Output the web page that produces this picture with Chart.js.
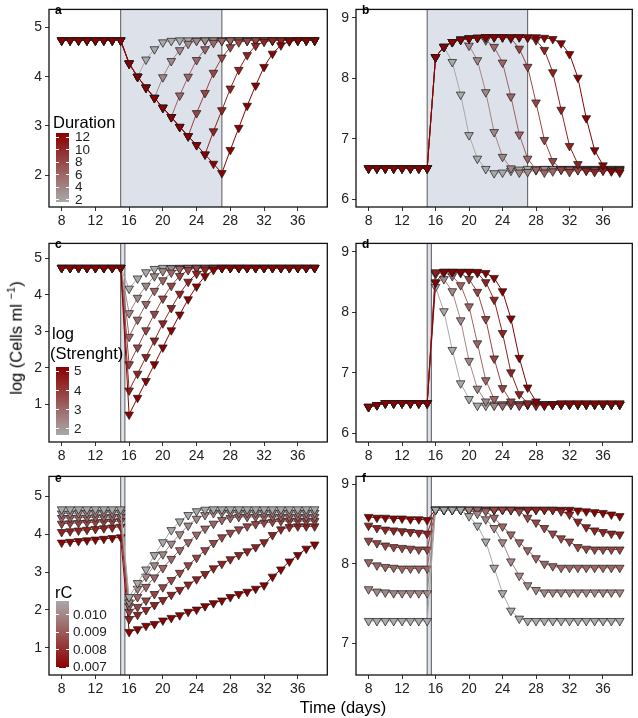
<!DOCTYPE html>
<html>
<head>
<meta charset="utf-8">
<script src="https://cdn.jsdelivr.net/npm/chart.js@4.4.0/dist/chart.umd.min.js"></script>
<style>
body { margin: 0; width: 638px; height: 718px; position: relative; background: #fff; overflow: hidden;
       font-family: "Liberation Sans", Arial, sans-serif; color: #000; }
.pane { position: absolute; }
.let { position: absolute; font-size: 12px; font-weight: bold; line-height: 12px; }
.ttl { position: absolute; font-size: 16.5px; line-height: 18px; white-space: nowrap; }
.bar { position: absolute; width: 13px; }
.tk { position: absolute; font-size: 13.5px; line-height: 13px; color: #222; }
.wt { position: absolute; width: 3px; height: 1px; background: #fff; }
</style>
</head>
<body>

<div class="pane"><canvas id="pa"></canvas></div>
<div class="pane"><canvas id="pb"></canvas></div>
<div class="pane"><canvas id="pc"></canvas></div>
<div class="pane"><canvas id="pd"></canvas></div>
<div class="pane"><canvas id="pe"></canvas></div>
<div class="pane"><canvas id="pf"></canvas></div>

<div class="let" style="left:55px;top:4px">a</div>
<div class="let" style="left:362px;top:4px">b</div>
<div class="let" style="left:55px;top:238px">c</div>
<div class="let" style="left:362px;top:238px">d</div>
<div class="let" style="left:55px;top:472px">e</div>
<div class="let" style="left:362px;top:472px">f</div>

<div class="ttl" style="left:53px;top:113px">Duration</div>
<div class="bar" id="barA" style="left:56px;top:133px;height:69px"></div>
<div id="legA"></div>

<div class="ttl" style="left:52px;top:324px">log</div>
<div class="ttl" style="left:50px;top:344px">(Strenght)</div>
<div class="bar" id="barC" style="left:56px;top:367px;height:68px"></div>
<div id="legC"></div>

<div class="ttl" style="left:55px;top:583px">rC</div>
<div class="bar" id="barE" style="left:56px;top:601px;height:67px"></div>
<div id="legE"></div>

<div class="ttl" style="left:13px;top:338px;transform:translate(-50%,-50%) rotate(-90deg)">log (Cells ml <sup style="font-size:11px">&minus;1</sup>)</div>
<div class="ttl" style="left:343px;top:698px;transform:translateX(-50%)">Time (days)</div>

<script>
const days = [8,9,10,11,12,13,14,15,16,17,18,19,20,21,22,23,24,25,26,27,28,29,30,31,32,33,34,35,36,37,38];
const xTicks = [8,12,16,20,24,28,32,36];

// panel a: duration 2..12
const a_dur2  = [4.74,4.74,4.74,4.74,4.74,4.74,4.74,4.74,4.27,4.00,4.35,4.56,4.70,4.73,4.74,4.74,4.74,4.74,4.74,4.74,4.74,4.74,4.74,4.74,4.74,4.74,4.74,4.74,4.74,4.74,4.74];
const a_dur4  = [4.74,4.74,4.74,4.74,4.74,4.74,4.74,4.74,4.27,4.00,3.78,3.57,3.99,4.32,4.54,4.67,4.73,4.74,4.74,4.74,4.74,4.74,4.74,4.74,4.74,4.74,4.74,4.74,4.74,4.74,4.74];
const a_dur6  = [4.74,4.74,4.74,4.74,4.74,4.74,4.74,4.74,4.27,4.00,3.78,3.57,3.37,3.18,3.62,4.00,4.34,4.56,4.69,4.73,4.74,4.74,4.74,4.74,4.74,4.74,4.74,4.74,4.74,4.74,4.74];
const a_dur8  = [4.74,4.74,4.74,4.74,4.74,4.74,4.74,4.74,4.27,4.00,3.78,3.57,3.37,3.18,2.98,2.79,3.26,3.67,4.08,4.39,4.60,4.70,4.73,4.74,4.74,4.74,4.74,4.74,4.74,4.74,4.74];
const a_dur10 = [4.74,4.74,4.74,4.74,4.74,4.74,4.74,4.74,4.27,4.00,3.78,3.57,3.37,3.18,2.98,2.79,2.61,2.42,2.89,3.32,3.76,4.14,4.44,4.63,4.71,4.74,4.74,4.74,4.74,4.74,4.74];
const a_dur12 = [4.74,4.74,4.74,4.74,4.74,4.74,4.74,4.74,4.27,4.00,3.78,3.57,3.37,3.18,2.98,2.79,2.61,2.42,2.23,2.04,2.51,2.96,3.41,3.82,4.20,4.47,4.64,4.72,4.74,4.74,4.74];

// panel b: duration 2..12
const b_dur2  = [6.51,6.51,6.51,6.51,6.51,6.51,6.51,6.51,8.35,8.52,8.27,7.73,7.06,6.67,6.50,6.43,6.44,6.47,6.49,6.50,6.50,6.50,6.50,6.50,6.50,6.50,6.50,6.50,6.50,6.50,6.50];
const b_dur4  = [6.51,6.51,6.51,6.51,6.51,6.51,6.51,6.51,8.35,8.52,8.60,8.64,8.54,8.30,7.77,7.11,6.70,6.51,6.44,6.45,6.48,6.50,6.50,6.50,6.50,6.50,6.50,6.50,6.50,6.50,6.50];
const b_dur6  = [6.51,6.51,6.51,6.51,6.51,6.51,6.51,6.51,8.35,8.52,8.60,8.64,8.66,8.67,8.63,8.52,8.26,7.70,7.07,6.67,6.49,6.44,6.46,6.49,6.49,6.49,6.49,6.49,6.49,6.49,6.49];
const b_dur8  = [6.51,6.51,6.51,6.51,6.51,6.51,6.51,6.51,8.35,8.52,8.60,8.64,8.66,8.67,8.68,8.68,8.68,8.66,8.49,8.19,7.60,6.98,6.63,6.49,6.45,6.48,6.48,6.48,6.48,6.48,6.48];
const b_dur10 = [6.51,6.51,6.51,6.51,6.51,6.51,6.51,6.51,8.35,8.52,8.60,8.64,8.66,8.67,8.68,8.68,8.68,8.68,8.68,8.67,8.63,8.47,8.10,7.48,6.88,6.58,6.47,6.45,6.47,6.47,6.47];
const b_dur12 = [6.51,6.51,6.51,6.51,6.51,6.51,6.51,6.51,8.35,8.52,8.60,8.64,8.66,8.67,8.68,8.68,8.68,8.68,8.68,8.68,8.68,8.67,8.65,8.58,8.40,8.01,7.34,6.81,6.56,6.46,6.44];

// panel c: log strength 2..5
const c_str1 = [4.74,4.74,4.74,4.74,4.74,4.74,4.74,4.74,4.17,4.45,4.62,4.71,4.74,4.74,4.74,4.74,4.74,4.74,4.74,4.74,4.74,4.74,4.74,4.74,4.74,4.74,4.74,4.74,4.74,4.74,4.74];
const c_str2 = [4.74,4.74,4.74,4.74,4.74,4.74,4.74,4.74,3.50,3.92,4.25,4.51,4.65,4.73,4.74,4.74,4.74,4.74,4.74,4.74,4.74,4.74,4.74,4.74,4.74,4.74,4.74,4.74,4.74,4.74,4.74];
const c_str3 = [4.74,4.74,4.74,4.74,4.74,4.74,4.74,4.74,2.85,3.32,3.75,4.11,4.40,4.61,4.71,4.74,4.74,4.74,4.74,4.74,4.74,4.74,4.74,4.74,4.74,4.74,4.74,4.74,4.74,4.74,4.74];
const c_str4 = [4.74,4.74,4.74,4.74,4.74,4.74,4.74,4.74,2.10,2.56,3.03,3.48,3.90,4.25,4.52,4.68,4.74,4.74,4.74,4.74,4.74,4.74,4.74,4.74,4.74,4.74,4.74,4.74,4.74,4.74,4.74];
const c_str5 = [4.74,4.74,4.74,4.74,4.74,4.74,4.74,4.74,1.38,1.84,2.30,2.75,3.22,3.64,4.03,4.36,4.58,4.69,4.74,4.74,4.74,4.74,4.74,4.74,4.74,4.74,4.74,4.74,4.74,4.74,4.74];
const c_str6 = [4.74,4.74,4.74,4.74,4.74,4.74,4.74,4.74,0.72,1.18,1.64,2.10,2.56,3.03,3.46,3.88,4.23,4.51,4.68,4.74,4.74,4.74,4.74,4.74,4.74,4.74,4.74,4.74,4.74,4.74,4.74];

// panel d: log strength 2..5
const d_str1 = [6.44,6.47,6.50,6.50,6.50,6.50,6.50,6.50,8.42,8.02,7.38,6.83,6.57,6.46,6.46,6.48,6.48,6.48,6.48,6.48,6.48,6.48,6.48,6.48,6.48,6.48,6.48,6.48,6.48,6.48,6.48];
const d_str2 = [6.44,6.47,6.50,6.50,6.50,6.50,6.50,6.50,8.50,8.55,8.35,7.87,7.20,6.74,6.53,6.46,6.48,6.48,6.48,6.48,6.48,6.48,6.48,6.48,6.48,6.48,6.48,6.48,6.48,6.48,6.48];
const d_str3 = [6.44,6.47,6.50,6.50,6.50,6.50,6.50,6.50,8.63,8.66,8.60,8.45,8.10,7.49,6.88,6.57,6.46,6.48,6.48,6.48,6.48,6.48,6.48,6.48,6.48,6.48,6.48,6.48,6.48,6.48,6.48];
const d_str4 = [6.44,6.47,6.50,6.50,6.50,6.50,6.50,6.50,8.66,8.67,8.67,8.65,8.55,8.34,7.89,7.24,6.75,6.53,6.46,6.48,6.48,6.48,6.48,6.48,6.48,6.48,6.48,6.48,6.48,6.48,6.48];
const d_str5 = [6.44,6.47,6.50,6.50,6.50,6.50,6.50,6.50,8.66,8.67,8.67,8.67,8.67,8.65,8.50,8.21,7.66,7.01,6.65,6.50,6.46,6.48,6.48,6.48,6.48,6.48,6.48,6.48,6.48,6.48,6.48];
const d_str6 = [6.44,6.47,6.50,6.50,6.50,6.50,6.50,6.50,8.49,8.67,8.67,8.67,8.67,8.67,8.65,8.57,8.35,7.90,7.25,6.76,6.53,6.46,6.48,6.50,6.50,6.50,6.50,6.50,6.50,6.50,6.50];

// panel e: rC 0.010 (grey) .. 0.007 (dark)
const e_rc1 = [4.66,4.66,4.66,4.66,4.66,4.66,4.66,4.66,2.34,2.71,3.07,3.45,3.79,4.11,4.34,4.51,4.61,4.65,4.66,4.66,4.66,4.66,4.66,4.66,4.66,4.66,4.66,4.66,4.66,4.66,4.66];
const e_rc2 = [4.55,4.55,4.56,4.56,4.56,4.57,4.57,4.57,2.20,2.56,2.88,3.18,3.47,3.75,4.00,4.23,4.41,4.51,4.56,4.57,4.57,4.57,4.57,4.57,4.57,4.57,4.57,4.57,4.57,4.57,4.57];
const e_rc3 = [4.43,4.43,4.44,4.44,4.45,4.45,4.46,4.46,2.10,2.34,2.61,2.86,3.11,3.35,3.58,3.79,3.99,4.15,4.28,4.38,4.43,4.46,4.46,4.46,4.46,4.46,4.46,4.46,4.46,4.46,4.46];
const e_rc4 = [4.28,4.29,4.30,4.31,4.32,4.33,4.34,4.35,1.95,2.08,2.25,2.42,2.60,2.79,2.98,3.18,3.38,3.58,3.77,3.92,4.04,4.13,4.21,4.27,4.31,4.33,4.35,4.35,4.35,4.35,4.35];
const e_rc5 = [4.06,4.08,4.10,4.12,4.14,4.16,4.18,4.20,1.76,1.87,2.00,2.13,2.26,2.40,2.53,2.67,2.81,2.95,3.10,3.22,3.34,3.45,3.55,3.66,3.79,3.98,4.13,4.19,4.21,4.21,4.21];
const e_rc6 = [3.78,3.80,3.82,3.84,3.86,3.88,3.90,3.92,1.42,1.49,1.58,1.63,1.72,1.79,1.86,1.95,2.01,2.10,2.18,2.25,2.34,2.42,2.48,2.56,2.65,2.88,3.07,3.28,3.45,3.62,3.73];

// panel f: rC 0.010 (grey) .. 0.007 (dark)
const f_rc1 = [7.28,7.28,7.28,7.28,7.28,7.28,7.28,7.28,8.68,8.68,8.68,8.68,8.60,8.48,8.28,7.95,7.63,7.41,7.31,7.28,7.28,7.28,7.28,7.28,7.28,7.28,7.28,7.28,7.28,7.28,7.28];
const f_rc2 = [7.68,7.65,7.64,7.63,7.63,7.63,7.63,7.63,8.68,8.68,8.68,8.68,8.68,8.63,8.56,8.45,8.27,8.03,7.85,7.73,7.67,7.64,7.64,7.64,7.64,7.64,7.64,7.64,7.64,7.64,7.64];
const f_rc3 = [8.02,7.98,7.96,7.95,7.94,7.94,7.94,7.94,8.68,8.68,8.68,8.68,8.68,8.68,8.66,8.58,8.47,8.37,8.27,8.17,8.07,8.00,7.97,7.95,7.95,7.95,7.95,7.95,7.95,7.95,7.95];
const f_rc4 = [8.29,8.26,8.23,8.21,8.20,8.19,8.18,8.18,8.68,8.68,8.68,8.68,8.68,8.68,8.68,8.68,8.68,8.68,8.66,8.58,8.52,8.45,8.38,8.32,8.28,8.21,8.19,8.18,8.18,8.18,8.18];
const f_rc5 = [8.48,8.45,8.43,8.42,8.41,8.40,8.39,8.38,8.68,8.68,8.68,8.68,8.68,8.68,8.68,8.68,8.68,8.68,8.68,8.68,8.68,8.68,8.68,8.66,8.62,8.53,8.46,8.42,8.40,8.38,8.37];
const f_rc6 = [8.59,8.58,8.58,8.57,8.57,8.56,8.56,8.55,8.68,8.68,8.68,8.68,8.68,8.68,8.68,8.68,8.68,8.68,8.68,8.68,8.68,8.68,8.68,8.68,8.68,8.67,8.66,8.65,8.64,8.62,8.60];

// treatment windows (days)
const winAB = [15, 27];
const winCF = [15, 15.5];

const GREY = [169, 169, 169];
const DARK = [139, 0, 0];

function mixColor(f) {
    let c = GREY.map((g, i) => Math.round(g + (DARK[i] - g) * f));
    return 'rgb(' + c.join(',') + ')';
}

// series listed from grey to dark red; greyOnTop decides which is drawn last
function makeDatasets(series, greyOnTop) {
    let n = series.length;
    let ds = series.map((s, i) => {
        let col = mixColor(i / (n - 1));
        return {
            data: s.map((v, j) => ({ x: days[j], y: v })),
            borderColor: col,
            backgroundColor: col,
            borderWidth: 1,
            pointStyle: 'triangle',
            rotation: 180,
            pointRadius: 5,
            pointBorderColor: '#1a1a1a',
            pointBorderWidth: 0.7,
            pointBackgroundColor: col,
            tension: 0
        };
    });
    // dataset 0 is drawn on top in Chart.js
    return greyOnTop ? ds : ds.reverse();
}

const frame = {
    id: 'frame',
    beforeDatasetsDraw(chart) {
        let win = chart.options.plugins.frame.win;
        let ctx = chart.ctx, a = chart.chartArea, xs = chart.scales.x;
        let x0 = xs.getPixelForValue(win[0]), x1 = xs.getPixelForValue(win[1]);
        ctx.save();
        ctx.fillStyle = '#dde1ea';
        ctx.fillRect(x0, a.top, x1 - x0, a.bottom - a.top);
        ctx.strokeStyle = '#5a5a5a';
        ctx.lineWidth = 1;
        ctx.beginPath();
        ctx.moveTo(x0, a.top); ctx.lineTo(x0, a.bottom);
        ctx.moveTo(x1, a.top); ctx.lineTo(x1, a.bottom);
        ctx.stroke();
        ctx.restore();
    },
    afterDraw(chart) {
        let ctx = chart.ctx, a = chart.chartArea;
        ctx.save();
        ctx.strokeStyle = '#111';
        ctx.lineWidth = 1.3;
        ctx.strokeRect(a.left, a.top, a.right - a.left, a.bottom - a.top);
        ctx.restore();
    }
};

function makePanel(id, box, yMin, yMax, yTicks, series, greyOnTop, win) {
    const PADL = 32, PADT = 3, PADR = 3, PADB = 27;
    let L = box[0], T = box[1], R = box[2], B = box[3];
    let canvas = document.getElementById(id);
    let w = R - L + PADL + PADR, h = B - T + PADT + PADB;
    canvas.width = w; canvas.height = h;
    canvas.style.width = w + 'px'; canvas.style.height = h + 'px';
    let pane = canvas.parentNode;
    pane.style.left = (L - PADL) + 'px';
    pane.style.top = (T - PADT) + 'px';

    const tickFont = { family: '"Liberation Sans", Arial, sans-serif', size: 14 };
    const axisGrid = { display: true, drawOnChartArea: false, drawTicks: true, tickLength: 4, color: '#333', lineWidth: 1 };

    new Chart(canvas, {
        type: 'line',
        data: { datasets: makeDatasets(series, greyOnTop) },
        options: {
            responsive: false,
            animation: false,
            layout: { padding: { left: 0, top: PADT, right: PADR, bottom: 0 } },
            plugins: { legend: { display: false }, tooltip: { enabled: false }, frame: { win: win } },
            scales: {
                x: {
                    type: 'linear', min: 6.5, max: 39.5,
                    afterBuildTicks: (ax) => { ax.ticks = xTicks.map(v => ({ value: v })); },
                    afterFit: (ax) => { ax.height = PADB; },
                    ticks: { color: '#222', font: tickFont, padding: 2, maxRotation: 0 },
                    grid: axisGrid,
                    border: { display: false }
                },
                y: {
                    type: 'linear', min: yMin, max: yMax,
                    afterBuildTicks: (ax) => { ax.ticks = yTicks.map(v => ({ value: v })); },
                    afterFit: (ax) => { ax.width = PADL; },
                    ticks: { color: '#222', font: tickFont, padding: 3 },
                    grid: axisGrid,
                    border: { display: false }
                }
            }
        },
        plugins: [frame]
    });
}

makePanel('pa', [49, 1, 330, 207], 1.35, 5.37, [2, 3, 4, 5],
    [a_dur2, a_dur4, a_dur6, a_dur8, a_dur10, a_dur12], false, winAB);
makePanel('pb', [356, 1, 635, 207], 5.87, 9.14, [6, 7, 8, 9],
    [b_dur2, b_dur4, b_dur6, b_dur8, b_dur10, b_dur12], false, winAB);
makePanel('pc', [49, 235, 330, 442], -0.03, 5.41, [1, 2, 3, 4, 5],
    [c_str1, c_str2, c_str3, c_str4, c_str5, c_str6], false, winCF);
makePanel('pd', [356, 235, 635, 442], 5.86, 9.14, [6, 7, 8, 9],
    [d_str1, d_str2, d_str3, d_str4, d_str5, d_str6], false, winCF);
makePanel('pe', [49, 468, 330, 675], 0.28, 5.53, [1, 2, 3, 4, 5],
    [e_rc1, e_rc2, e_rc3, e_rc4, e_rc5, e_rc6], true, winCF);
makePanel('pf', [356, 468, 635, 675], 6.6, 9.1, [7, 8, 9],
    [f_rc1, f_rc2, f_rc3, f_rc4, f_rc5, f_rc6], true, winCF);

// colour bar legends
function colourBar(barId, legId, labels, centers, darkTop, left) {
    let bar = document.getElementById(barId);
    let d = mixColor(1), g = mixColor(0);
    bar.style.background = 'linear-gradient(to bottom,' + (darkTop ? d + ',' + g : g + ',' + d) + ')';
    let leg = document.getElementById(legId);
    let bx = parseFloat(bar.style.left), bw = 13;
    let html = '';
    labels.forEach((t, i) => {
        let c = centers[i];
        html += '<div class="tk" style="left:' + left + 'px;top:' + (c - 6.5) + 'px">' + t + '</div>';
        html += '<div class="wt" style="left:' + bx + 'px;top:' + Math.round(c) + 'px"></div>';
        html += '<div class="wt" style="left:' + (bx + bw - 3) + 'px;top:' + Math.round(c) + 'px"></div>';
    });
    leg.innerHTML = html;
}
colourBar('barA', 'legA', ['12', '10', '8', '6', '4', '2'], [136.7, 149, 161.7, 174, 186.7, 199], true, 75);
colourBar('barC', 'legC', ['5', '4', '3', '2'], [370.7, 390, 409.3, 428.3], true, 74);
colourBar('barE', 'legE', ['0.010', '0.009', '0.008', '0.007'], [614.3, 631.7, 649.3, 666.7], false, 73);
</script>
</body>
</html>
